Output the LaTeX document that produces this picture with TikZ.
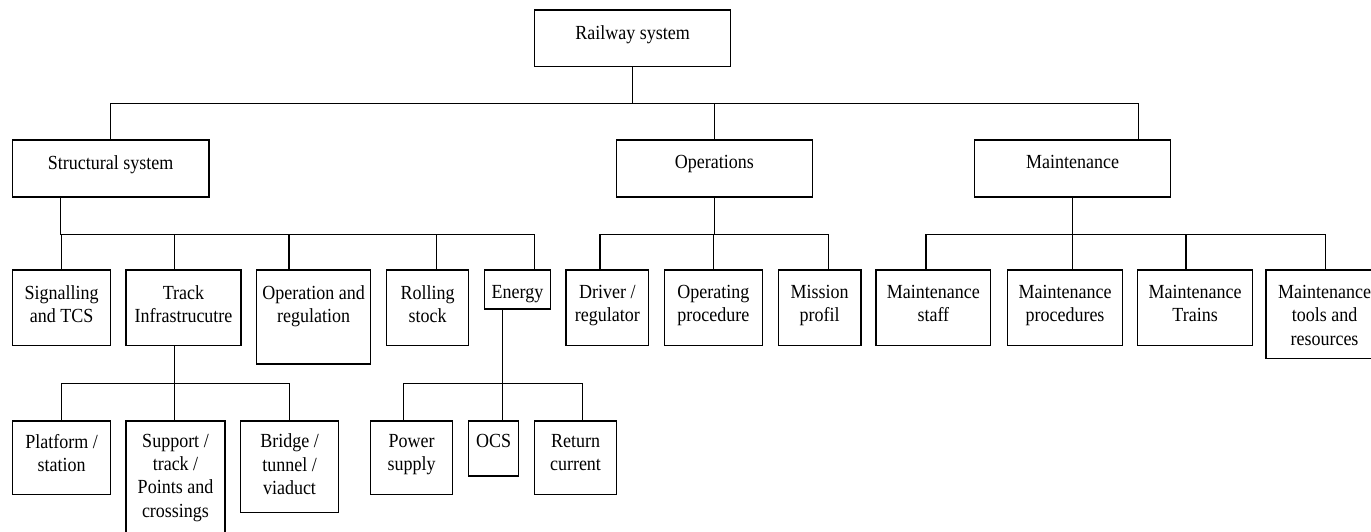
\documentclass[tikz,border=0pt]{standalone}
\usepackage{fontspec}
\setmainfont{Liberation Serif}[FakeStretch=0.9]
\usepackage{tikz}

\tikzset{
  blk/.style={draw, line width=1.2pt, inner sep=0pt},
  txt/.style={anchor=north, inner sep=0pt, yshift=#1, align=center,
    font=\fontsize{20}{23.3}\selectfont},
  txt/.default=-15.6pt,
  link/.style={line width=1.2pt}
}

\begin{document}
\begin{tikzpicture}[x=1pt, y=-1pt]
        \useasboundingbox (0,0) rectangle (1371,532);

        % Root
        \node[blk, minimum width=196.4pt, minimum height=56.7pt, label={[txt]north:Railway system}] (rail) at (632.5,38.35) {};

        % Second level
        \node[blk, minimum width=196.7pt, minimum height=57pt, label={[txt]north:Structural system}] (struct) at (110.65,168.5) {};
        \node[blk, minimum width=195.5pt, minimum height=57pt, label={[txt]north:Operations}] (ops) at (714.45,168.5) {};
        \node[blk, minimum width=196.4pt, minimum height=57pt, label={[txt]north:Maintenance}] (maint) at (1072.5,168.5) {};

        % Third level
        \node[blk, minimum width=98.3pt, minimum height=75.7pt, label={[txt]north:{Signalling\\and TCS}}] (sig) at (61.55,307.85) {};
        \node[blk, minimum width=115pt, minimum height=75.7pt, label={[txt]north:{Track\\Infrastrucutre}}] (track) at (183.5,307.85) {};
        \node[blk, minimum width=113.8pt, minimum height=94pt, label={[txt]north:{Operation and\\regulation}}] (opreg) at (313.6,317) {};
        \node[blk, minimum width=82pt, minimum height=75.7pt, label={[txt]north:{Rolling\\stock}}] (rolling) at (427.7,307.85) {};
        \node[blk, minimum width=66.4pt, minimum height=39pt, label={[txt]north:Energy}] (energy) at (517.5,289.5) {};
        \node[blk, minimum width=82.7pt, minimum height=75.7pt, label={[txt]north:{Driver /\\regulator}}] (driver) at (607.35,307.85) {};
        \node[blk, minimum width=98.3pt, minimum height=75.7pt, label={[txt]north:{Operating\\procedure}}] (opproc) at (713.45,307.85) {};
        \node[blk, minimum width=82.8pt, minimum height=75.7pt, label={[txt]north:{Mission\\profil}}] (mission) at (819.6,307.85) {};
        \node[blk, minimum width=114.7pt, minimum height=75.7pt, label={[txt]north:{Maintenance\\staff}}] (mstaff) at (933.35,307.85) {};
        \node[blk, minimum width=114.4pt, minimum height=75.7pt, label={[txt]north:{Maintenance\\procedures}}] (mproc) at (1065,307.85) {};
        \node[blk, minimum width=114.6pt, minimum height=75.7pt, label={[txt]north:{Maintenance\\Trains}}] (mtrains) at (1195.1,307.85) {};
        \node[blk, minimum width=117pt, minimum height=88.3pt, label={[txt]north:{Maintenance\\tools and\\resources}}] (mtools) at (1324.5,314.15) {};

        % Fourth level
        \node[blk, minimum width=98.3pt, minimum height=73.3pt, label={[txt=-13.5pt]north:{Platform /\\station}}] (platform) at (61.55,457.65) {};
        \node[blk, minimum width=99pt, minimum height=119pt, label={[txt=-13.5pt]north:{Support /\\track /\\Points and\\crossings}}] (support) at (175.5,480.5) {};
        \node[blk, minimum width=97.6pt, minimum height=91.7pt, label={[txt=-13.5pt]north:{Bridge /\\tunnel /\\viaduct}}] (bridge) at (289.5,466.85) {};
        \node[blk, minimum width=82pt, minimum height=73.3pt, label={[txt=-13.5pt]north:{Power\\supply}}] (power) at (411.7,457.65) {};
        \node[blk, minimum width=50pt, minimum height=55pt, label={[txt=-13.5pt]north:OCS}] (ocs) at (493.7,448.5) {};
        \node[blk, minimum width=82.4pt, minimum height=73.3pt, label={[txt=-13.5pt]north:{Return\\current}}] (retcur) at (575.5,457.65) {};

        % Connectors
        \foreach \c/\s in {struct/0, ops/0, maint/65.8}
          \draw[link] (rail.south) -- ++(0,36.6) -| ([xshift=\s pt]\c.north);
        \foreach \c/\s in {sig/0, track/-9.1, opreg/-24.6, rolling/9, energy/16.8}
          \draw[link] ([xshift=-50pt]struct.south) -- ++(0,36.5) -| ([xshift=\s pt]\c.north);
        \foreach \c/\s in {driver/-7.35, opproc/0, mission/8.7}
          \draw[link] (ops.south) -- ++(0,36.5) -| ([xshift=\s pt]\c.north);
        \foreach \c/\s in {mstaff/-7.35, mproc/7.3, mtrains/-9.1, mtools/1.2}
          \draw[link] (maint.south) -- ++(0,36.5) -| ([xshift=\s pt]\c.north);
        \foreach \c/\s in {platform/0, support/-1, bridge/0}
          \draw[link] ([xshift=-9.1pt]track.south) -- ++(0,36.8) -| ([xshift=\s pt]\c.north);
        \foreach \c/\s in {power/-8, ocs/8.6, retcur/7.2}
          \draw[link] ([xshift=-15.2pt]energy.south) -- ++(0,73.5) -| ([xshift=\s pt]\c.north);
      \end{tikzpicture}
\end{document}
